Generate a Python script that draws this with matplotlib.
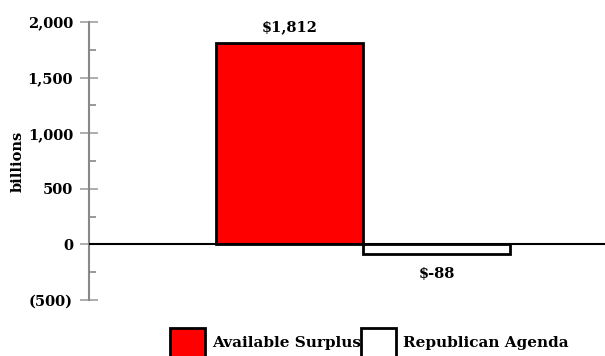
import numpy as np
import matplotlib.pyplot as plt
from matplotlib.ticker import FixedLocator, MultipleLocator
from matplotlib.patches import Patch

labels = ['Available Surplus', 'Republican Agenda']
values = [1812, -88]
colors = ['#ff0000', '#ffffff']
bar_text = ['$1,812', '$-88']
yticks = [-500, 0, 500, 1000, 1500, 2000]
ytick_labels = ['(500)', '0', '500', '1,000', '1,500', '2,000']

plt.rcParams['font.family'] = 'DejaVu Serif'
plt.rcParams['font.weight'] = 'bold'
fs = 10.5

fig = plt.figure(figsize=(6.05, 3.56), dpi=100)
ax = fig.add_axes([89 / 605, 56 / 356, 1 - 89 / 605, (300 - 22) / 356])

x = np.arange(len(values))
ax.bar(x, values, width=1.0, color=colors, edgecolor='black', linewidth=2, zorder=3)
ax.axhline(0, color='black', lw=1.5, zorder=4)

for xi, v, t in zip(x, values, bar_text):
    if v >= 0:
        ax.annotate(t, (xi, v), xytext=(0, 6), textcoords='offset points',
                    ha='center', va='bottom', fontsize=fs, fontweight='bold')
    else:
        ax.annotate(t, (xi, v), xytext=(0, -9), textcoords='offset points',
                    ha='center', va='top', fontsize=fs, fontweight='bold')

ax.set_xlim(-0.5 - 127 / 147, 0.5 + 242 / 147)
ax.set_ylim(-500, 2000)
ax.set_xticks([])
ax.yaxis.set_major_locator(FixedLocator(yticks))
ax.set_yticklabels(ytick_labels, fontsize=fs, fontweight='bold')
ax.yaxis.set_minor_locator(MultipleLocator(250))
ax.tick_params(axis='y', which='major', direction='inout', length=13, width=1.2,
               color='#a0a0a0', pad=5)
ax.tick_params(axis='y', which='minor', direction='in', length=5, width=1.2,
               color='#888888')
for s in ['top', 'right', 'bottom']:
    ax.spines[s].set_visible(False)
ax.spines['left'].set_color('#888888')
ax.spines['left'].set_linewidth(1.5)
ax.set_ylabel('billions', fontsize=fs, fontweight='bold')
ax.yaxis.set_label_coords((25 - 89) / 516, 0.5)

handles = [Patch(facecolor=c, edgecolor='black', linewidth=2) for c in colors]
fig.legend(handles, labels, loc='upper left', bbox_to_anchor=(170 / 605, 1 - 328 / 356),
           ncol=2, frameon=False, fontsize=11, handlelength=2.3, handleheight=2.6,
           handletextpad=0.45, columnspacing=0.0, borderaxespad=0, borderpad=0)

fig.savefig('out.png', dpi=100)
